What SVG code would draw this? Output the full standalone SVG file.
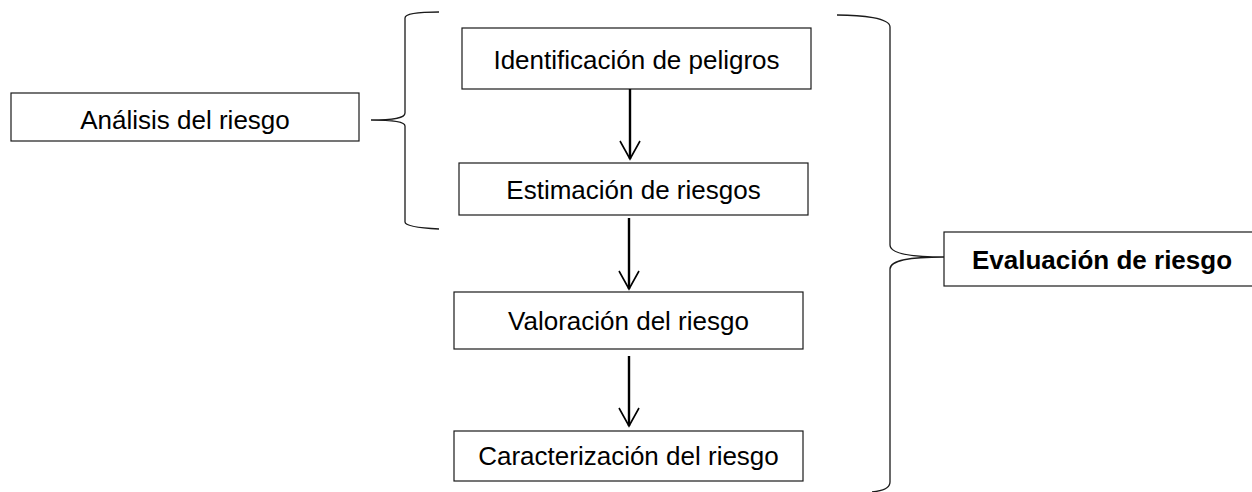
<svg xmlns="http://www.w3.org/2000/svg" width="1252" height="492" viewBox="0 0 1252 492">
<style>
.box{fill:#fff;stroke:#1a1a1a;stroke-width:1.2}
.t{font-family:"Liberation Sans",Arial,sans-serif;font-size:26px;fill:#000;text-anchor:middle}
.b{font-weight:bold}
.brace{fill:none;stroke:#1a1a1a;stroke-width:1.3}
.arr{fill:none;stroke:#000;stroke-width:2.4}
</style>
<defs>
<marker id="ah" markerUnits="userSpaceOnUse" viewBox="-20 -12 22 24" refX="0" refY="0" markerWidth="22" markerHeight="24" orient="auto">
<path d="M-18,-10 L0,0 L-18,10" fill="none" stroke="#000" stroke-width="1.6"/>
</marker>
</defs>
<g id="n-identificacion"><rect class="box" x="462" y="28" width="349" height="61"/><text class="t" x="636.5" y="69">Identificación de peligros</text></g>
<g id="n-estimacion"><rect class="box" x="459" y="163" width="349" height="52"/><text class="t" x="633.5" y="199">Estimación de riesgos</text></g>
<g id="n-valoracion"><rect class="box" x="454" y="292" width="349" height="57"/><text class="t" x="628.5" y="330">Valoración del riesgo</text></g>
<g id="n-caracterizacion"><rect class="box" x="454" y="431" width="349" height="50"/><text class="t" x="628.5" y="465">Caracterización del riesgo</text></g>
<g id="n-analisis"><rect class="box" x="11" y="93" width="348" height="48"/><text class="t" x="185" y="129">Análisis del riesgo</text></g>
<g id="n-evaluacion"><rect class="box" x="944" y="232" width="316" height="54"/><text class="t b" x="1102" y="269">Evaluación de riesgo</text></g>
<g id="connectors">
<path class="arr" d="M630,89 L630,159" marker-end="url(#ah)"/>
<path class="arr" d="M629,218 L629,289" marker-end="url(#ah)"/>
<path class="arr" d="M629,356 L629,426" marker-end="url(#ah)"/>
<path class="brace" d="M439,12 C420,12 405,13 405,18 L405,113 C405,118 395,120 371,120 C395,120 405,122 405,126 L405,222 C405,226 420,228 439,229"/>
<path class="brace" d="M837,15 C862,15 890,18 890,27 L890,245 C890,253 910,257 944,257 C910,257 890,260 890,269 L890,482 C890,488 882,491 872,492"/>
</g>
</svg>
